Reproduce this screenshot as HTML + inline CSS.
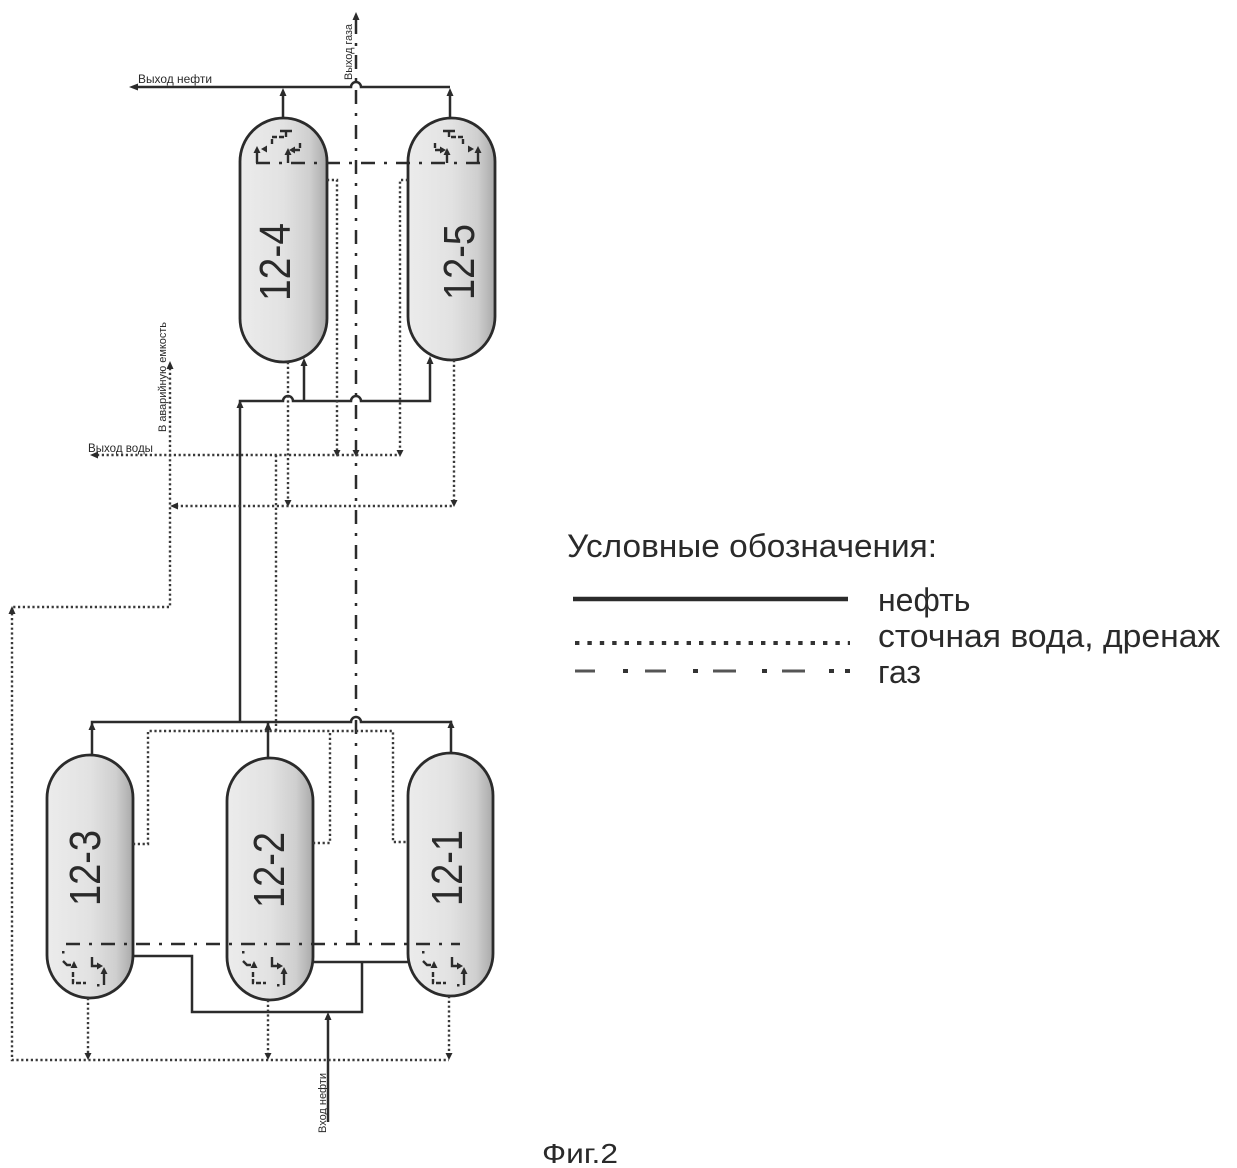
<!DOCTYPE html>
<html>
<head>
<meta charset="utf-8">
<style>
html,body{margin:0;padding:0;background:#fff;}
svg{display:block;}
text{font-family:"Liberation Sans", Arial, sans-serif;fill:#2a2a2a;}
.oil{stroke:#2b2b2b;stroke-width:2.5;fill:none;}
.wat{stroke:#3a3a3a;stroke-width:2.4;stroke-dasharray:2.2 2.6;fill:none;}
.gas{stroke:#2b2b2b;stroke-width:2.5;stroke-dasharray:14 9 3 9;fill:none;}
.ves{stroke:#2b2b2b;stroke-width:2.8;fill:url(#vg);}
.dev{stroke:#2b2b2b;stroke-width:2.4;fill:none;stroke-dasharray:5 2;}
.ar{fill:#2b2b2b;stroke:none;}
</style>
</head>
<body>
<svg width="1237" height="1168" viewBox="0 0 1237 1168" xmlns="http://www.w3.org/2000/svg">
<defs>
<linearGradient id="vg" x1="0" y1="0" x2="1" y2="0">
<stop offset="0" stop-color="#ececec"/>
<stop offset="0.5" stop-color="#e2e2e2"/>
<stop offset="0.8" stop-color="#cfcfcf"/>
<stop offset="1" stop-color="#a9a9a9"/>
</linearGradient>
<g id="devTop">
<path d="M280,131 H292 M286,131 V137" stroke="#2b2b2b" stroke-width="2.4" fill="none"/>
<path class="dev" d="M284,137 H272 V146"/>
<polygon class="ar" points="261,149 267,145.5 267,152.5"/>
<polygon class="ar" points="289,150 295,146.5 295,153.5"/>
<path class="dev" d="M295,150 H300 V141"/>
<path d="M257,163 V151" stroke="#2b2b2b" stroke-width="2.4"/>
<polygon class="ar" points="257,146 253.5,153 260.5,153"/>
<path d="M288,163 V153" stroke="#2b2b2b" stroke-width="2.4"/>
<polygon class="ar" points="288,148 284.5,155 291.5,155"/>
</g>
<g id="devBot">
<rect class="ar" x="-28" y="951" width="2.5" height="2.5"/>
<path d="M-27,961 l4,4 h4" stroke="#2b2b2b" stroke-width="2.4" fill="none"/>
<polygon class="ar" points="-16,961 -19.5,968 -12.5,968"/>
<path class="dev" d="M-17,972 V983 H-4"/>
<rect class="ar" x="7" y="984" width="2.5" height="2.5"/>
<path d="M2,957 V966 H8" stroke="#2b2b2b" stroke-width="2.4" fill="none"/>
<polygon class="ar" points="13,966 7,962.5 7,969.5"/>
<path d="M14,985 V973" stroke="#2b2b2b" stroke-width="2.4"/>
<polygon class="ar" points="14,967 10.5,974 17.5,974"/>
</g>
</defs>

<!-- ================= VESSELS ================= -->
<rect class="ves" x="240" y="118" width="87" height="244" rx="43.5" ry="43.5"/>
<rect class="ves" x="408" y="118" width="87" height="242" rx="43.5" ry="43.5"/>
<rect class="ves" x="47" y="755" width="86" height="243" rx="43" ry="43"/>
<rect class="ves" x="227" y="758" width="86" height="242" rx="43" ry="43"/>
<rect class="ves" x="408" y="753" width="85" height="243" rx="42.5" ry="42.5"/>

<!-- vessel labels -->
<text transform="translate(290,262) rotate(-90)" text-anchor="middle" font-size="44" textLength="78" lengthAdjust="spacingAndGlyphs">12-4</text>
<text transform="translate(474,262) rotate(-90)" text-anchor="middle" font-size="44" textLength="76" lengthAdjust="spacingAndGlyphs">12-5</text>
<text transform="translate(100,868) rotate(-90)" text-anchor="middle" font-size="44" textLength="76" lengthAdjust="spacingAndGlyphs">12-3</text>
<text transform="translate(284,870) rotate(-90)" text-anchor="middle" font-size="44" textLength="76" lengthAdjust="spacingAndGlyphs">12-2</text>
<text transform="translate(462,868) rotate(-90)" text-anchor="middle" font-size="44" textLength="76" lengthAdjust="spacingAndGlyphs">12-1</text>

<!-- internal devices -->
<use href="#devTop"/>
<use href="#devTop" transform="translate(735,0) scale(-1,1)"/>
<use href="#devBot" transform="translate(90,0)"/>
<use href="#devBot" transform="translate(270,0)"/>
<use href="#devBot" transform="translate(450,0)"/>

<!-- ================= GAS ================= -->
<path class="gas" d="M356,20 V944"/>
<polygon class="ar" points="356,12 352.5,20 359.5,20"/>
<path class="gas" d="M256,163 H480"/>
<path class="gas" d="M66,944 H460"/>
<polygon class="ar" points="356,457 352.5,450 359.5,450"/>

<!-- ================= OIL ================= -->
<!-- top outlet -->
<path class="oil" d="M136,87 H351 A5,5 0 0 1 361,87 H450"/>
<polygon class="ar" points="129,87 138,83.5 138,90.5"/>
<path class="oil" d="M283,118 V92"/>
<polygon class="ar" points="283,88 279.5,96 286.5,96"/>
<path class="oil" d="M450,118 V92"/>
<polygon class="ar" points="450,88 446.5,96 453.5,96"/>

<!-- middle collector -->
<path class="oil" d="M240,721 V401 H283 A5,5 0 0 1 293,401 H351 A5,5 0 0 1 361,401 H430 V360"/>
<polygon class="ar" points="240,400 236.5,408 243.5,408"/>
<path class="oil" d="M304,401 V362"/>
<polygon class="ar" points="304,358 300.5,366 307.5,366"/>
<polygon class="ar" points="430,356 426.5,364 433.5,364"/>

<!-- bottom collector -->
<path class="oil" d="M92,755 V722 H351 A5,5 0 0 1 361,722 H451 V753"/>
<path class="oil" d="M268,758 V722"/>
<polygon class="ar" points="92,722 88.5,730 95.5,730"/>
<polygon class="ar" points="268,722 264.5,730 271.5,730"/>
<polygon class="ar" points="451,720 447.5,728 454.5,728"/>

<!-- inlet -->
<path class="oil" d="M133,956 H192 V1012 H362 V962"/>
<path class="oil" d="M313,962 H408"/>
<path class="oil" d="M328,1122 V1016"/>
<polygon class="ar" points="328,1012 324.5,1020 331.5,1020"/>

<!-- ================= WATER / DRAIN ================= -->
<path class="wat" d="M327,180 H337 V451"/>
<polygon class="ar" points="337,457 333.5,450 340.5,450"/>
<path class="wat" d="M408,180 H400 V451"/>
<polygon class="ar" points="400,457 396.5,450 403.5,450"/>
<path class="wat" d="M97,455 H400"/>
<polygon class="ar" points="90,455 98,451.5 98,458.5"/>
<path class="wat" d="M288,362 V502"/>
<polygon class="ar" points="288,507 284.5,500 291.5,500"/>
<path class="wat" d="M454,360 V502"/>
<polygon class="ar" points="454,507 450.5,500 457.5,500"/>
<path class="wat" d="M176,506 H454"/>
<polygon class="ar" points="170,506 178,502.5 178,509.5"/>
<path class="wat" d="M170,368 V607 H12 V1060 H449"/>
<polygon class="ar" points="170,361 166.5,369 173.5,369"/>
<polygon class="ar" points="12,606 8.5,614 15.5,614"/>
<path class="wat" d="M276,455 V731"/>
<path class="wat" d="M133,844 H148 V731 H393 V842 H408"/>
<path class="wat" d="M313,843 H330 V731"/>
<path class="wat" d="M88,998 V1055"/>
<polygon class="ar" points="88,1060 84.5,1053 91.5,1053"/>
<path class="wat" d="M268,1000 V1055"/>
<polygon class="ar" points="268,1060 264.5,1053 271.5,1053"/>
<path class="wat" d="M449,996 V1055"/>
<polygon class="ar" points="449,1060 445.5,1053 452.5,1053"/>

<!-- ================= small labels ================= -->
<text x="138" y="83" font-size="11.5" textLength="74" lengthAdjust="spacingAndGlyphs">Выход нефти</text>
<text transform="translate(352,80) rotate(-90)" font-size="11" textLength="56" lengthAdjust="spacingAndGlyphs">Выход газа</text>
<text transform="translate(166,432) rotate(-90)" font-size="11" textLength="110" lengthAdjust="spacingAndGlyphs">В аварийную емкость</text>
<text x="88" y="452" font-size="11.5" textLength="65" lengthAdjust="spacingAndGlyphs">Выход воды</text>
<text transform="translate(326,1133) rotate(-90)" font-size="11" textLength="60" lengthAdjust="spacingAndGlyphs">Вход нефти</text>

<!-- ================= LEGEND ================= -->
<text x="567" y="557" font-size="32" textLength="370" lengthAdjust="spacingAndGlyphs">Условные обозначения:</text>
<path d="M573,599 H848" stroke="#2b2b2b" stroke-width="4.5"/>
<path d="M575,643 H850" stroke="#333" stroke-width="4" stroke-dasharray="4.4 8"/>
<g fill="#555">
<rect x="575" y="669.5" width="20" height="3"/>
<rect x="623" y="669" width="5" height="4" fill="#333"/>
<rect x="645" y="669.5" width="21" height="3"/>
<rect x="693" y="669" width="5" height="4" fill="#333"/>
<rect x="713" y="669.5" width="23" height="3"/>
<rect x="762" y="669" width="5" height="4" fill="#333"/>
<rect x="782" y="669.5" width="23" height="3"/>
<rect x="829" y="669" width="5" height="4" fill="#333"/>
<rect x="845" y="669" width="5" height="4" fill="#333"/>
</g>
<text x="878" y="611" font-size="32">нефть</text>
<text x="878" y="647" font-size="32" textLength="342" lengthAdjust="spacingAndGlyphs">сточная вода, дренаж</text>
<text x="878" y="683" font-size="32">газ</text>

<!-- caption -->
<text x="542" y="1163" font-size="28" textLength="76" lengthAdjust="spacingAndGlyphs">Фиг.2</text>
</svg>
</body>
</html>
